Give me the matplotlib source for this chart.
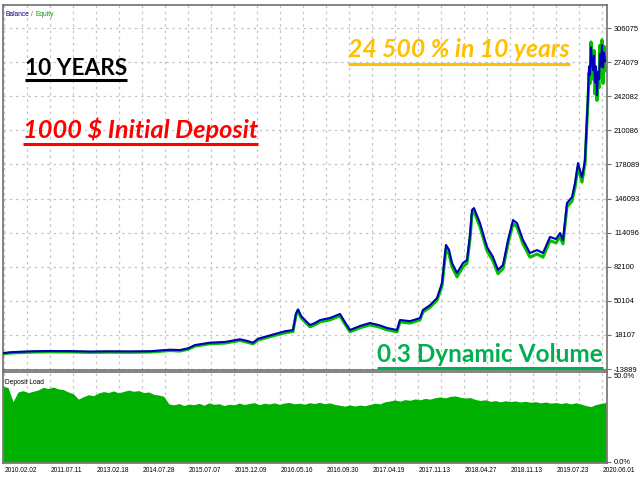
import numpy as np
import matplotlib
matplotlib.use("Agg")
import matplotlib.pyplot as plt
from matplotlib.lines import Line2D
from matplotlib import font_manager

# ---------------- data ----------------
trade_no = [0, 7, 17, 32, 47, 67, 87, 107, 127, 147, 167, 177, 185, 192, 207, 222, 237, 244,
            250, 255, 260, 274, 282, 290, 293, 295, 298, 303, 307, 312, 317, 327, 337, 342,
            347, 357, 367, 377, 384, 394, 397, 407, 417, 420, 427, 434, 439, 443, 446, 449,
            454, 460, 464, 467, 469, 471, 477, 484, 490, 495, 500, 505, 510, 514, 520, 527,
            534, 540, 547, 553, 557, 560, 564, 569, 572, 575, 579, 582, 585, 586, 587, 588,
            589, 590, 591, 592, 593, 594, 595, 596, 597, 598, 599, 600, 601, 602]
balance = [1000, 1800, 2300, 2800, 3000, 2900, 2500, 2700, 2600, 2800, 4200, 3900, 5500, 8600,
           10800, 11500, 14000, 12500, 10800, 14500, 15800, 19500, 21500, 22700, 38000, 42100,
           36000, 31000, 27400, 29300, 32000, 34000, 37700, 30000, 22700, 26500, 29300, 27000,
           24600, 22700, 32100, 31000, 33900, 41500, 46000, 52700, 66800, 102500, 98000, 85600,
           76200, 85600, 88400, 112000, 135300, 137100, 123000, 100600, 91200, 79000, 83700,
           107100, 125900, 123000, 107100, 94900, 97700, 94900, 110000, 108000, 113700, 107100,
           141800, 147400, 160500, 179300, 166000, 182100, 243000, 270000, 262000, 288000,
           275000, 266500, 280000, 255000, 270000, 243000, 265000, 258000, 282000, 270000,
           290000, 269000, 283000, 275000]
equity = [300, 1100, 1500, 2000, 2200, 2100, 1700, 1900, 1800, 2000, 3400, 3000, 4600, 7600,
          9800, 10400, 12900, 11300, 9700, 13300, 14600, 18200, 20100, 21300, 36800, 41000,
          34300, 29300, 25700, 27600, 30300, 32200, 36000, 28200, 21000, 24800, 27500, 25300,
          22900, 21000, 30300, 29200, 32100, 39600, 44000, 50600, 63800, 99000, 94000, 82000,
          72500, 82000, 85200, 108000, 131500, 134000, 119500, 97000, 87500, 75500, 80200,
          103500, 122500, 119500, 103500, 91000, 94000, 91000, 106500, 104500, 110000, 103500,
          138500, 143500, 156500, 175500, 161500, 178500, 238000, 264000, 254000, 293000,
          266000, 258000, 285000, 244000, 264000, 238000, 260000, 250000, 290000, 260000,
          295000, 254000, 289000, 266000]

deposit_load = [44.6, 43.8, 35.5, 41.2, 42.0, 40.8, 41.6, 42.4, 43.9, 43.2, 44.1, 43.0, 42.6,
                41.2, 40.1, 37.0, 38.4, 39.6, 39.0, 40.6, 41.4, 40.9, 41.8, 40.7, 41.5, 42.3,
                41.6, 42.0, 40.8, 41.2, 39.8, 39.4, 38.6, 34.2, 33.6, 34.4, 33.2, 34.1, 33.7,
                34.5, 33.4, 34.8, 33.9, 34.3, 33.2, 34.0, 33.6, 34.7, 33.8, 34.4, 34.9, 33.7,
                34.6, 34.1, 34.8, 33.9, 34.7, 35.0, 34.2, 34.6, 34.0, 34.9, 34.4, 35.1, 34.3,
                34.8, 33.9, 33.4, 32.8, 33.6, 32.9, 33.5, 33.1, 33.8, 34.6, 34.2, 35.4, 35.9,
                36.5, 35.8, 36.7, 36.3, 37.1, 36.6, 37.4, 37.0, 37.8, 38.3, 37.7, 38.6, 38.9,
                38.1, 37.6, 37.9, 36.8, 36.2, 36.6, 35.7, 36.1, 35.4, 36.0, 35.6, 35.9, 35.3,
                35.7, 35.1, 35.5, 34.8, 35.3, 34.6, 35.0, 34.4, 34.9, 34.2, 34.8, 34.1, 33.2,
                32.6, 33.8, 34.5, 35.0]

y_ticks = [-13889, 18107, 50104, 82100, 114096, 146093, 178089, 210086, 242082, 274079, 306075]
date_labels = ["2010.02.02", "2011.07.11", "2013.02.18", "2014.07.28", "2015.07.07",
               "2015.12.09", "2016.05.16", "2016.09.30", "2017.04.19", "2017.11.13",
               "2018.04.27", "2018.11.13", "2019.07.23", "2020.06.01"]
load_ticks = [0.0, 50.0]
load_tick_labels = ["0.0%", "50.0%"]

# ---------------- fonts ----------------
avail = {f.name for f in font_manager.fontManager.ttflist}
small_font = [f for f in ["Liberation Sans Narrow", "Liberation Sans", "DejaVu Sans"]
              if f in avail] or ["DejaVu Sans"]
big_font = [f for f in ["Lato", "Open Sans", "DejaVu Sans"] if f in avail] or ["DejaVu Sans"]

W, H = 640, 480
fig = plt.figure(figsize=(6.4, 4.8), dpi=100)
fig.patch.set_facecolor("white")
fig.canvas.draw()
renderer = fig.canvas.get_renderer()


def fx(px):
    return px / W


def fy(py):
    return 1 - py / H


def fit_size(txt, width_px, **kw):
    t = fig.text(0, 0, txt, fontsize=10, **kw)
    w = t.get_window_extent(renderer).width
    t.remove()
    return 10 * width_px / w


# pixel geometry
L, R = 3, 607
main_top, main_bot = 5, 370
low_top, low_bot = 372, 463

ax = fig.add_axes([fx(L), fy(main_bot), (R - L) / W, (main_bot - main_top) / H])
ax2 = fig.add_axes([fx(L), fy(low_bot), (R - L) / W, (low_bot - low_top) / H])

per_px = (306075 - (-13889)) / (369 - 28)
ax.set_ylim(-13889 - (main_bot - 369) * per_px, 306075 + (28 - main_top) * per_px)
ax.set_xlim(0, R - L)
ax2.set_xlim(0, R - L)
pp = 50.0 / (462 - 377)
ax2.set_ylim(0 - (low_bot - 462) * pp, 50 + (377 - low_top) * pp)

grid_kw = dict(color="#c4c4c4", linestyle=(0, (2, 3)), linewidth=0.9)
xgrid = np.arange(1, R - L, 23)
for a in (ax, ax2):
    for sp in a.spines.values():
        sp.set_color("#707070")
        sp.set_linewidth(1.2)
    a.set_xticks(xgrid)
    a.tick_params(axis="x", length=0, labelbottom=False)
    for xv in xgrid:
        a.axvline(xv, zorder=0, **grid_kw)

for yv in y_ticks:
    ax.axhline(yv, zorder=0, **grid_kw)

ax.plot(trade_no, equity, color="#00c000", linewidth=2.2, zorder=2)
ax.plot(trade_no, balance, color="#0000b8", linewidth=1.5, zorder=3)

tick_size = fit_size("306075", 25, family=small_font)
date_size = fit_size("2010.02.02", 33, family=small_font)

ax.yaxis.tick_right()
ax.set_yticks(y_ticks)
ax.set_yticklabels([str(v) for v in y_ticks])
ax.tick_params(axis="y", length=3, width=0.8, color="#707070", pad=2, labelsize=tick_size,
               labelcolor="black")
for t in ax.get_yticklabels():
    t.set_family(small_font)

x_load = np.linspace(0, R - L - 1, len(deposit_load))
ax2.fill_between(x_load, 0, deposit_load, color="#00b000", linewidth=0, zorder=2)
ax2.yaxis.tick_right()
ax2.set_yticks(load_ticks)
ax2.set_yticklabels(load_tick_labels)
ax2.tick_params(axis="y", length=3, width=0.8, color="#707070", pad=2, labelsize=tick_size)
for t in ax2.get_yticklabels():
    t.set_family(small_font)
    t.set_va("center")

# date labels, left-aligned at every other gridline
for i, lab in enumerate(date_labels):
    xp = L + 1 + 46 * i
    fig.text(fx(xp + 1), fy(470), lab, fontsize=date_size, family=small_font,
             ha="left", va="center")

# small panel titles
s_bal = fit_size("Balance", 24, family=small_font)
fig.text(fx(5), fy(14), "Balance", fontsize=s_bal, family=small_font, color="#00008b", va="center")
fig.text(fx(31), fy(14), "/", fontsize=s_bal, family=small_font, color="#606060", va="center")
fig.text(fx(35), fy(14), "Equity", fontsize=s_bal, family=small_font, color="#00a000", va="center")
fig.text(fx(5), fy(382), "Deposit Load", fontsize=s_bal, family=small_font, color="black",
         va="center")


def banner(txt, x0, x1, base, ul, color, italic):
    t = fig.text(fx(x0), fy(base), txt, fontsize=20, fontweight="bold",
                 style="italic" if italic else "normal", color=color,
                 family=big_font, ha="left", va="baseline", zorder=10)
    bb = t.get_window_extent(renderer)
    t.set_fontsize(20 * (x1 - x0) / bb.width)
    bb = t.get_window_extent(renderer)
    t.set_x(fx(x0 - (bb.x0 - x0)))
    fig.add_artist(Line2D([fx(x0), fx(x1)], [fy(ul), fy(ul)], color=color,
                          linewidth=2.2, solid_capstyle="butt"))


banner("10 YEARS", 25, 127, 75, 80, "black", False)
banner("1000 $ Initial Deposit", 23, 258, 138, 144, "#ff0000", True)
banner("24 500 % in 10 years", 348, 570, 57, 64, "#ffc000", True)
banner("0.3 Dynamic Volume", 377, 603, 362, 368, "#00b050", False)

fig.savefig("out.png", dpi=100)
